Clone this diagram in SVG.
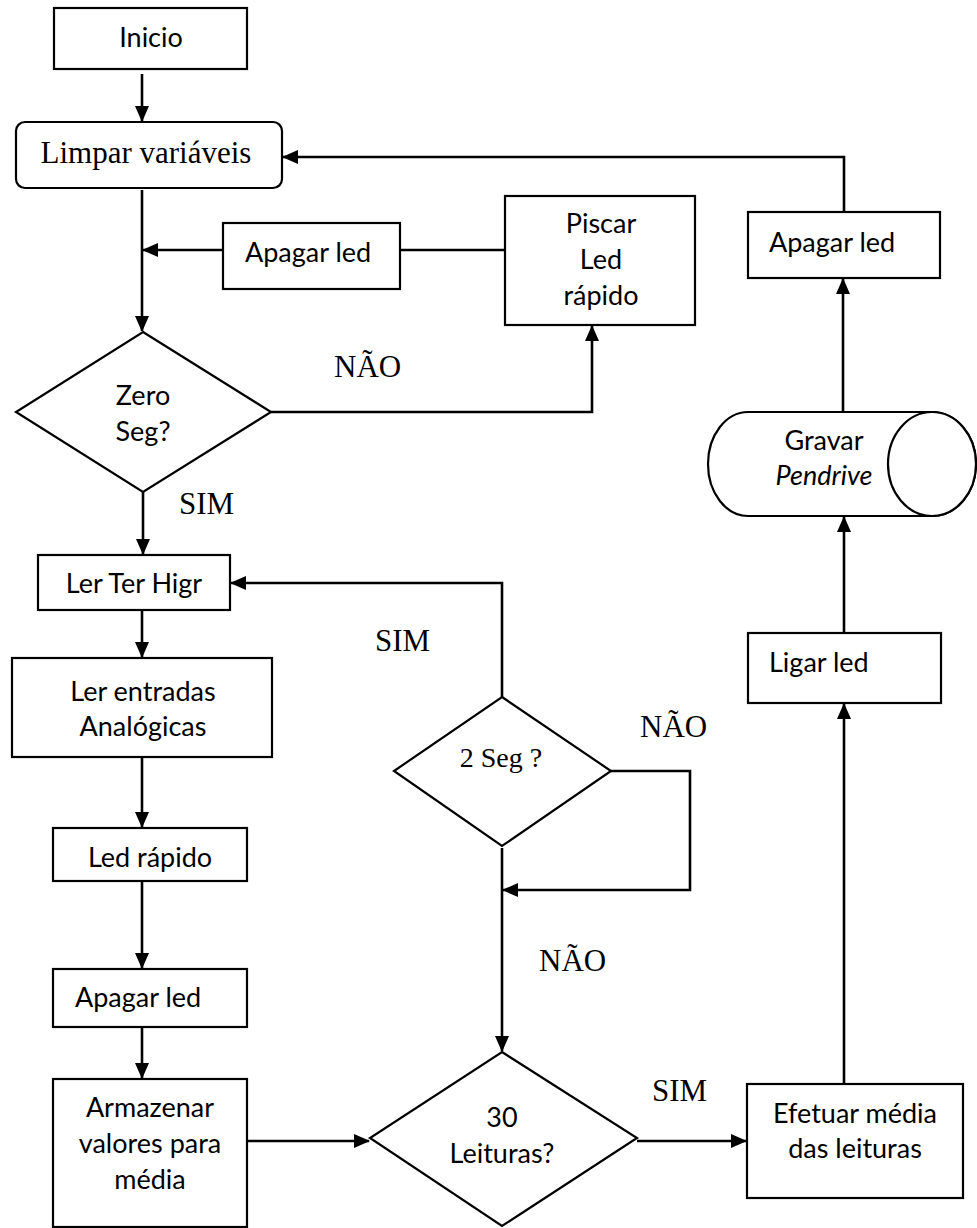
<svg xmlns="http://www.w3.org/2000/svg" width="977" height="1228" viewBox="0 0 977 1228">
<style>
.box{fill:#fff;stroke:#000;stroke-width:2.2}
.t{font-family:Lato,"Liberation Sans",sans-serif;font-size:27px;fill:#000}
.s{font-family:"Liberation Serif","Times New Roman",serif;font-size:31px;fill:#000}
.c{text-anchor:middle}
.e{fill:none;stroke:#000;stroke-width:2.6}
</style>
<defs>
<marker id="ah" markerUnits="userSpaceOnUse" markerWidth="16" markerHeight="14" viewBox="0 0 16 14" refX="15" refY="7" orient="auto">
<path d="M0,0 L16,7 L0,14 Z" fill="#000"/>
</marker>
</defs>
<rect width="977" height="1228" fill="#fff"/>
<g id="connectors">
<path class="e" d="M142,74 V121" marker-end="url(#ah)"/>
<path class="e" d="M142,190 V331" marker-end="url(#ah)"/>
<path class="e" d="M223,250 H143" marker-end="url(#ah)"/>
<path class="e" d="M505,250 H400"/>
<path class="e" d="M271,412 H592 V326" marker-end="url(#ah)"/>
<path class="e" d="M143,492 V554" marker-end="url(#ah)"/>
<path class="e" d="M142,605 V657" marker-end="url(#ah)"/>
<path class="e" d="M142,757 V827" marker-end="url(#ah)"/>
<path class="e" d="M142,870 V968" marker-end="url(#ah)"/>
<path class="e" d="M142,1027 V1078" marker-end="url(#ah)"/>
<path class="e" d="M247,1141 H369" marker-end="url(#ah)"/>
<path class="e" d="M502,697 V583 H231" marker-end="url(#ah)"/>
<path class="e" d="M611,771 H690 V890 H503" marker-end="url(#ah)"/>
<path class="e" d="M502,848 V1051" marker-end="url(#ah)"/>
<path class="e" d="M637,1141 H746" marker-end="url(#ah)"/>
<path class="e" d="M844,1084 V704" marker-end="url(#ah)"/>
<path class="e" d="M844,633 V517" marker-end="url(#ah)"/>
<path class="e" d="M843,412 V279" marker-end="url(#ah)"/>
<path class="e" d="M844,212 V157 H283" marker-end="url(#ah)"/>
</g>
<g id="labels">
<text class="s" x="334" y="377">NÃO</text>
<text class="s" x="179" y="514">SIM</text>
<text class="s" x="375" y="651">SIM</text>
<text class="s" x="640" y="737">NÃO</text>
<text class="s" x="539" y="971">NÃO</text>
<text class="s" x="652" y="1101">SIM</text>
</g>
<g id="inicio">
<rect class="box" x="54" y="8" width="193" height="61"/>
<text class="t c" x="151" y="47">Inicio</text>
</g>
<g id="limpar">
<rect class="box" x="16" y="122" width="266" height="66" rx="9"/>
<text class="s c" x="146" y="163">Limpar variáveis</text>
</g>
<g id="apagar-led-1">
<rect class="box" x="223" y="223" width="177" height="66"/>
<text class="t" x="245" y="262">Apagar led</text>
</g>
<g id="piscar">
<rect class="box" x="505" y="196" width="190" height="129"/>
<text class="t c" x="601" y="233">Piscar</text>
<text class="t c" x="601" y="269">Led</text>
<text class="t c" x="601" y="305">rápido</text>
</g>
<g id="zero-seg">
<polygon class="box" points="143,332 271,412 143,492 16,412"/>
<text class="t c" x="143" y="405">Zero</text>
<text class="t c" x="143" y="441">Seg?</text>
</g>
<g id="ler-ter-higr">
<rect class="box" x="38" y="555" width="192" height="55"/>
<text class="t c" x="134" y="593">Ler Ter Higr</text>
</g>
<g id="ler-entradas">
<rect class="box" x="12" y="658" width="260" height="99"/>
<text class="t c" x="143" y="701">Ler entradas</text>
<text class="t c" x="143" y="736">Analógicas</text>
</g>
<g id="led-rapido">
<rect class="box" x="53" y="828" width="194" height="53"/>
<text class="t c" x="150" y="867">Led rápido</text>
</g>
<g id="apagar-led-2">
<rect class="box" x="53" y="969" width="194" height="58"/>
<text class="t" x="75" y="1007">Apagar led</text>
</g>
<g id="armazenar">
<rect class="box" x="53" y="1079" width="194" height="148"/>
<text class="t c" x="150" y="1117">Armazenar</text>
<text class="t c" x="150" y="1153">valores para</text>
<text class="t c" x="150" y="1189">média</text>
</g>
<g id="dois-seg">
<polygon class="box" points="502,697 611,771 502,846 394,771"/>
<text class="s c" x="501" y="767" style="font-size:28px">2 Seg ?</text>
</g>
<g id="trinta-leituras">
<polygon class="box" points="502,1052 637,1138 502,1226 370,1138"/>
<text class="t c" x="502" y="1127">30</text>
<text class="t c" x="502" y="1163">Leituras?</text>
</g>
<g id="efetuar">
<rect class="box" x="747" y="1084" width="216" height="114"/>
<text class="t c" x="855" y="1123">Efetuar média</text>
<text class="t c" x="855" y="1158">das leituras</text>
</g>
<g id="ligar-led">
<rect class="box" x="748" y="633" width="193" height="70"/>
<text class="t" x="769" y="672">Ligar led</text>
</g>
<g id="gravar">
<path class="box" d="M748,412 H932 A44,52 0 0 1 932,516 H748 A40,52 0 0 1 748,412 Z"/>
<ellipse class="box" cx="932" cy="464" rx="44" ry="52"/>
<text class="t c" x="824" y="450">Gravar</text>
<text class="t c" x="824" y="485" font-style="italic">Pendrive</text>
</g>
<g id="apagar-led-3">
<rect class="box" x="748" y="212" width="192" height="66"/>
<text class="t" x="769" y="252">Apagar led</text>
</g>
</svg>
